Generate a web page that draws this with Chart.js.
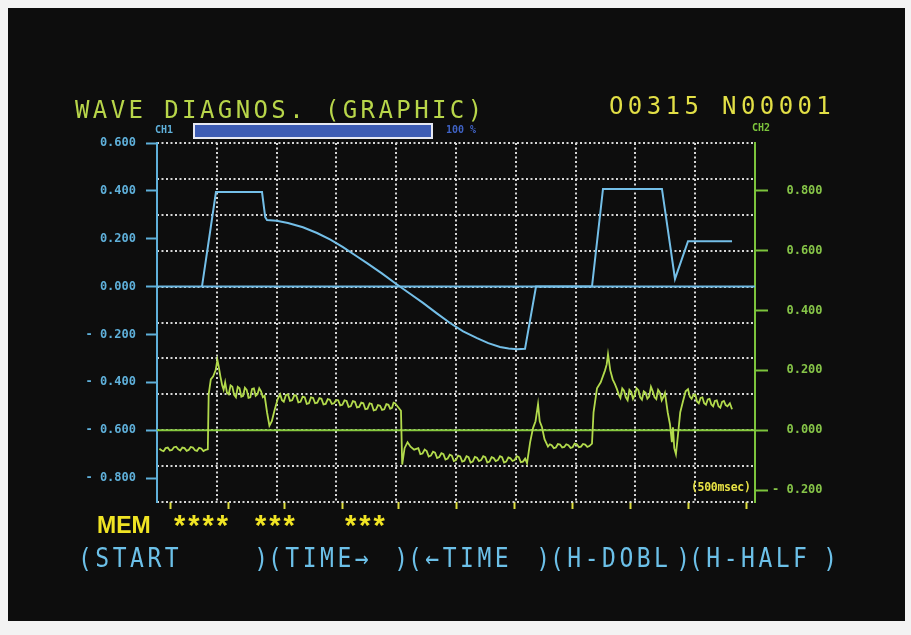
<!DOCTYPE html>
<html>
<head>
<meta charset="utf-8">
<script src="https://cdn.jsdelivr.net/npm/chart.js@4/dist/chart.umd.min.js"></script>
<style>
  body { margin: 0; background: #f3f3f3; width: 911px; height: 635px; overflow: hidden; position: relative; }
  #screen { position: absolute; left: 8px; top: 8px; width: 897px; height: 613px; background: #0d0d0d; }
  canvas { position: absolute; left: 0; top: 0; }
  .t { position: absolute; white-space: pre; font-family: "DejaVu Sans Mono", monospace; }
  #title { left: 75px; top: 98px; font-size: 24px; line-height: 24px; letter-spacing: 3.4px; color: #b8d64a; }
  #prog { left: 609px; top: 94px; font-size: 24px; line-height: 24px; letter-spacing: 4.4px; color: #e2df46; }
  #ch1 { left: 155px; top: 124px; font-size: 10px; font-weight: bold; color: #5fb0da; }
  #ch2 { left: 752px; top: 122px; font-size: 10px; font-weight: bold; color: #7cc43c; }
  #bar { position: absolute; left: 193px; top: 123px; width: 236px; height: 12px; border: 2px solid #e6e8f2; background: #3d5cb4; }
  #pct { left: 446px; top: 124px; font-size: 10px; font-weight: bold; color: #3f62c4; }
  #msec { left: 691px; top: 480px; font-size: 11.5px; font-weight: bold; color: #e6e044; letter-spacing: -0.3px; }
  .mem { position: absolute; top: 512px; font-family: "Liberation Sans Narrow", "Liberation Sans", sans-serif; font-weight: bold; color: #f0e424; font-size: 23px; line-height: 26px; white-space: pre; }
  .star { font-size: 29px; letter-spacing: 3px; }
  .key { position: absolute; top: 541px; height: 34px; display: flex; font-family: "DejaVu Sans Mono", monospace; font-size: 23px; line-height: 34px; letter-spacing: 3.5px; color: #6cc0e8; transform: scaleY(1.15); }
  .key span:last-child { margin-left: auto; letter-spacing: 0; }
</style>
</head>
<body>
<div id="screen"></div>
<canvas id="wave" width="911" height="635"></canvas>
<div class="t" id="title">WAVE DIAGNOS. (GRAPHIC)</div>
<div class="t" id="prog">O0315 N00001</div>
<div class="t" id="ch1">CH1</div>
<div id="bar"></div>
<div class="t" id="pct">100 %</div>
<div class="t" id="ch2">CH2</div>
<div class="t" id="msec">(500msec)</div>
<div class="mem" style="left:97px">MEM</div>
<div class="mem star" style="left:174px">****</div>
<div class="mem star" style="left:255px">***</div>
<div class="mem star" style="left:345px">***</div>
<div class="key" style="left:78px;width:190px"><span>(START</span><span>)</span></div>
<div class="key" style="left:268px;width:140px"><span>(TIME→</span><span>)</span></div>
<div class="key" style="left:408px;width:142px"><span>(←TIME</span><span>)</span></div>
<div class="key" style="left:550px;width:140px"><span>(H-DOBL</span><span>)</span></div>
<div class="key" style="left:689px;width:148px"><span>(H-HALF</span><span>)</span></div>

<script>
// time in msec (500 msec per division), CH1 on left scale, CH2 on right scale
var ch1Points = [
    [376, 0], [493, 0.395], [878, 0.395], [905, 0.29], [920, 0.278], [1000, 0.275], [1095, 0.266],
    [1220, 0.248], [1338, 0.224], [1450, 0.196], [1555, 0.165], [1660, 0.13], [1756, 0.098],
    [1880, 0.055], [1998, 0.012], [2110, -0.028], [2224, -0.068], [2340, -0.112], [2450, -0.152],
    [2560, -0.187], [2676, -0.215], [2770, -0.236], [2868, -0.252], [2940, -0.259], [3010, -0.262],
    [3077, -0.26], [3169, 0], [3637, 0], [3729, 0.408], [4222, 0.408], [4331, 0.032], [4440, 0.19],
    [4808, 0.19]
];

var ch2Points = [
    [20, -0.062], [40, -0.068], [55, -0.07], [72, -0.06], [90, -0.058], [108, -0.068], [125, -0.066],
    [142, -0.057], [160, -0.055], [178, -0.064], [195, -0.068], [212, -0.058], [230, -0.06], [248, -0.069],
    [265, -0.066], [282, -0.056], [300, -0.058], [318, -0.067], [335, -0.069], [352, -0.059], [370, -0.061],
    [388, -0.07], [405, -0.066], [425, -0.064],
    [432, 0.12], [450, 0.17], [470, 0.18], [490, 0.2], [505, 0.235], [515, 0.215], [530, 0.18], [545, 0.15],
    [557, 0.135], [570, 0.16], [585, 0.125], [600, 0.12], [615, 0.15], [630, 0.145], [645, 0.118],
    [660, 0.11], [675, 0.145], [690, 0.14], [705, 0.112], [720, 0.115], [735, 0.142], [750, 0.135],
    [765, 0.108], [780, 0.11], [795, 0.138], [810, 0.14], [825, 0.115], [840, 0.12], [855, 0.14],
    [870, 0.13], [885, 0.11], [900, 0.115],
    [920, 0.06], [940, 0.015], [960, 0.03], [985, 0.07], [1010, 0.105], [1030, 0.12],
    [1045, 0.1], [1060, 0.095], [1078, 0.118], [1095, 0.12], [1112, 0.098], [1130, 0.1], [1148, 0.117],
    [1165, 0.115], [1182, 0.093], [1200, 0.095], [1218, 0.112], [1235, 0.11], [1252, 0.088], [1270, 0.09],
    [1288, 0.11], [1305, 0.108], [1322, 0.09], [1340, 0.092], [1358, 0.107], [1375, 0.105], [1392, 0.086],
    [1410, 0.088], [1428, 0.104], [1445, 0.102], [1462, 0.088], [1480, 0.09], [1498, 0.101], [1515, 0.1],
    [1532, 0.083], [1550, 0.085], [1568, 0.1], [1585, 0.098], [1602, 0.078], [1620, 0.08], [1638, 0.097],
    [1655, 0.095], [1672, 0.076], [1690, 0.078], [1708, 0.092], [1725, 0.09], [1742, 0.07], [1760, 0.072],
    [1778, 0.09], [1795, 0.088], [1812, 0.066], [1830, 0.068], [1848, 0.084], [1865, 0.082], [1882, 0.068],
    [1900, 0.07], [1918, 0.087], [1935, 0.085], [1950, 0.072], [1965, 0.075], [1978, 0.092], [1990, 0.09],
    [2010, 0.08], [2040, 0.065],
    [2050, -0.115], [2070, -0.06], [2095, -0.04], [2120, -0.055], [2150, -0.065], [2185, -0.06],
    [2202, -0.08], [2220, -0.078], [2238, -0.065], [2255, -0.07], [2272, -0.088], [2290, -0.085],
    [2308, -0.072], [2325, -0.075], [2342, -0.093], [2360, -0.09], [2378, -0.077], [2395, -0.08],
    [2412, -0.098], [2430, -0.095], [2448, -0.082], [2465, -0.085], [2482, -0.103], [2500, -0.1],
    [2518, -0.085], [2535, -0.088], [2552, -0.105], [2570, -0.102], [2588, -0.087], [2605, -0.09],
    [2622, -0.108], [2640, -0.105], [2658, -0.089], [2675, -0.092], [2692, -0.103], [2710, -0.1],
    [2728, -0.087], [2745, -0.09], [2762, -0.108], [2780, -0.105], [2798, -0.09], [2815, -0.093],
    [2832, -0.103], [2850, -0.1], [2868, -0.087], [2885, -0.09], [2902, -0.108], [2920, -0.105],
    [2938, -0.091], [2955, -0.094], [2972, -0.103], [2990, -0.1], [3008, -0.087], [3025, -0.09],
    [3042, -0.107], [3060, -0.105], [3078, -0.095], [3094, -0.11],
    [3120, -0.04], [3144, 0.007], [3165, 0.03], [3186, 0.087], [3200, 0.03], [3219, 0.01], [3240, -0.03],
    [3269, -0.055], [3285, -0.047], [3300, -0.05], [3318, -0.06], [3335, -0.058], [3352, -0.046],
    [3370, -0.048], [3388, -0.058], [3405, -0.056], [3422, -0.047], [3440, -0.05], [3458, -0.059],
    [3475, -0.057], [3492, -0.045], [3510, -0.047], [3528, -0.057], [3545, -0.055], [3562, -0.046],
    [3580, -0.048], [3598, -0.056], [3615, -0.053], [3637, -0.045],
    [3650, 0.06], [3679, 0.14], [3710, 0.16], [3746, 0.2], [3760, 0.22], [3771, 0.254], [3790, 0.2],
    [3810, 0.17], [3829, 0.154],
    [3845, 0.138], [3860, 0.12], [3875, 0.108], [3890, 0.14], [3905, 0.132], [3920, 0.11], [3935, 0.1],
    [3950, 0.135], [3965, 0.128], [3980, 0.105], [3995, 0.118], [4010, 0.14], [4025, 0.134], [4040, 0.11],
    [4055, 0.102], [4070, 0.13], [4085, 0.125], [4100, 0.105], [4115, 0.112], [4130, 0.145], [4145, 0.13],
    [4160, 0.11], [4175, 0.104], [4190, 0.135], [4205, 0.126], [4220, 0.1], [4235, 0.112], [4247, 0.125],
    [4270, 0.06], [4289, 0.02], [4305, -0.04], [4314, 0.01], [4325, -0.06], [4339, -0.08], [4355, -0.02],
    [4375, 0.06], [4398, 0.097], [4420, 0.13], [4440, 0.137],
    [4455, 0.112], [4470, 0.105], [4485, 0.118], [4500, 0.12], [4515, 0.096], [4530, 0.09], [4545, 0.108],
    [4560, 0.11], [4575, 0.09], [4590, 0.085], [4605, 0.103], [4620, 0.105], [4635, 0.086], [4650, 0.08],
    [4665, 0.098], [4680, 0.1], [4695, 0.08], [4710, 0.075], [4725, 0.095], [4740, 0.098], [4755, 0.084],
    [4770, 0.08], [4790, 0.09], [4808, 0.07]
];

var ch1Zero = [[0, 0], [5000, 0]];
var ch2Zero = [[0, 0], [5000, 0]];

var ch1Ticks = [0.6, 0.4, 0.2, 0, -0.2, -0.4, -0.6, -0.8];
var ch2Ticks = [0.8, 0.6, 0.4, 0.2, 0, -0.2];
var markTimes = [117, 594, 1070, 1547, 2023, 2508, 2985, 3478, 3955, 4440, 4925];

function xy(list) {
    return list.map(function(p) { return { x: p[0], y: p[1] }; });
}

function fmt(v) {
    var s = Math.abs(v).toFixed(3);
    return v < 0 ? '- ' + s : s;
}

// dotted screen grid: in v4 the grid line dash comes from border.dash
var dots = { color: '#d6d6d6', lineWidth: 2, drawTicks: false };
var dotBorder = { display: false, dash: [2, 2.5] };
var tickFont = { family: 'DejaVu Sans Mono', size: 12, weight: 'bold' };

new Chart(document.getElementById('wave'), {
    type: 'line',
    data: {
        datasets: [{
            data: xy(ch1Points),
            yAxisID: 'y',
            borderColor: '#74bfe8',
            borderWidth: 2
        }, {
            data: xy(ch2Points),
            yAxisID: 'y2',
            borderColor: '#b2da4c',
            borderWidth: 1.8
        }, {
            data: xy(ch1Zero),
            yAxisID: 'y',
            borderColor: '#6cb8e2',
            borderWidth: 2
        }, {
            data: xy(ch2Zero),
            yAxisID: 'y2',
            borderColor: '#86c83e',
            borderWidth: 2
        }]
    },
    options: {
        responsive: false,
        animation: false,
        elements: { point: { radius: 0 }, line: { tension: 0 } },
        layout: { padding: { top: 143, bottom: 125, left: 0, right: 0 } },
        plugins: { legend: { display: false }, tooltip: { enabled: false } },
        scales: {
            x: {
                type: 'linear', min: 0, max: 5000, position: 'bottom',
                ticks: { display: false, stepSize: 500 },
                grid: dots,
                border: dotBorder,
                afterFit: function(s) { s.height = 0; }
            },
            xt: {
                type: 'linear', min: 0, max: 5000, position: 'bottom',
                afterBuildTicks: function(s) { s.ticks = markTimes.map(function(v) { return { value: v }; }); },
                ticks: { display: false },
                grid: { drawOnChartArea: false, tickLength: 7, tickColor: '#dcdc3c', tickWidth: 2 },
                border: { display: false },
                afterFit: function(s) { s.height = 8; }
            },
            yg: {
                type: 'linear', min: 0, max: 10, position: 'left',
                ticks: { display: false, stepSize: 1 },
                grid: dots,
                border: dotBorder,
                afterFit: function(s) { s.width = 0; }
            },
            y: {
                type: 'linear', min: -0.9, max: 0.6, position: 'left',
                afterBuildTicks: function(s) { s.ticks = ch1Ticks.map(function(v) { return { value: v }; }); },
                ticks: { color: '#5fb0da', font: tickFont, padding: 10, callback: fmt },
                grid: { drawOnChartArea: false, tickLength: 11, tickColor: '#5fb0da', tickWidth: 2 },
                border: { color: '#5fb0da', width: 2 },
                afterFit: function(s) { s.width = 157; }
            },
            y2: {
                type: 'linear', min: -0.24, max: 0.96, position: 'right',
                afterBuildTicks: function(s) { s.ticks = ch2Ticks.map(function(v) { return { value: v }; }); },
                ticks: {
                    color: '#86c448', font: tickFont, padding: 4,
                    callback: function(v) { return v < 0 ? fmt(v) : '  ' + fmt(v); }
                },
                grid: { drawOnChartArea: false, tickLength: 13, tickColor: '#7cc43c', tickWidth: 2 },
                border: { color: '#7cc43c', width: 2 },
                afterFit: function(s) { s.width = 156; }
            }
        }
    }
});
</script>
</body>
</html>
